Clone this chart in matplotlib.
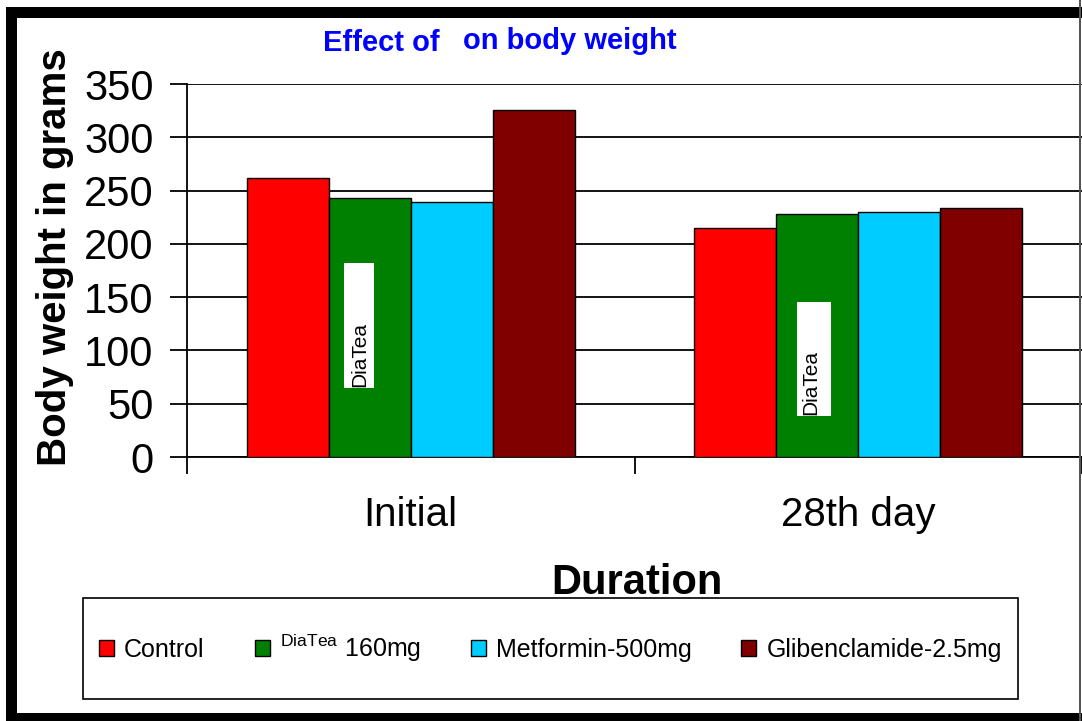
import matplotlib
matplotlib.use("Agg")
import numpy as np
from matplotlib import pyplot as plt
from matplotlib.patches import Rectangle

plt.rcParams['font.family'] = ['Liberation Sans', 'DejaVu Sans']
plt.rcParams['mathtext.fontset'] = 'custom'
plt.rcParams['mathtext.rm'] = 'Liberation Sans'

# data
durations = ['Initial', '28th day']
groups = ['Control', r'$^{\mathrm{DiaTea}}$ 160mg', 'Metformin-500mg', 'Glibenclamide-2.5mg']
control = [262, 215]
diatea = [243, 228]
metformin = [239, 230]
glib = [326, 234]
colors = ['#FF0000', '#008000', '#00CCFF', '#800000']

W, H = 1082, 721
fig = plt.figure(figsize=(W / 100, H / 100), dpi=100)
ax = fig.add_axes([187 / W, 1 - 457 / H, 895 / W, 373 / H])

series = [control, diatea, metformin, glib]
x = np.arange(len(durations)) + 0.5
bw = 0.183
for i, vals in enumerate(series):
    ax.bar(x + (i - 1.5) * bw, vals, bw, color=colors[i], edgecolor='black',
           linewidth=1.0, label=groups[i], zorder=3)

ax.set_xlim(0, 2)
ax.set_ylim(0, 350)
ax.set_yticks(np.arange(0, 351, 50))
ax.yaxis.grid(True, color='black', linewidth=1.3, zorder=0)
ax.set_xticks([0, 1, 2])
ax.set_xticklabels([])
ax.set_xticks(x, minor=True)
ax.set_xticklabels(durations, minor=True, fontsize=29)
ax.tick_params(axis='x', which='minor', length=0, pad=28)
ax.tick_params(axis='x', which='major', length=12, width=1.3, direction='out')
ax.tick_params(axis='y', length=12, width=1.3, direction='out', labelsize=30, pad=12)
for s in ['top', 'right']:
    ax.spines[s].set_visible(False)
ax.spines['left'].set_linewidth(1.3)
ax.spines['bottom'].set_linewidth(1.3)

ax.set_ylabel('Body weight in grams', fontsize=29, fontweight='bold', va='center', ha='center')
ax.yaxis.set_label_coords((55 - 187) / 895, (457 - 257) / 373)
ax.set_xlabel('Duration', fontsize=30, fontweight='bold', va='center', ha='center')
ax.xaxis.set_label_coords((637 - 187) / 895, (457 - 583) / 373)

# title (the drug name is missing in the original, leaving a gap)
fig.text(323 / W, 1 - 43 / H, 'Effect of', color='#0000FF',
         fontsize=21, fontweight='bold', ha='left', va='center')
fig.text(463 / W, 1 - 41 / H, 'on body weight', color='#0000FF',
         fontsize=21, fontweight='bold', ha='left', va='center')

# DiaTea stickers over the green bars
for (bx0, by0, bx1, by1), tx in [((344, 263, 374, 388), 360), ((797, 302, 831, 416), 811)]:
    fig.add_artist(Rectangle((bx0 / W, 1 - by1 / H), (bx1 - bx0) / W, (by1 - by0) / H,
                             transform=fig.transFigure, facecolor='white', edgecolor='none', zorder=4))
    fig.text(tx / W, 1 - (by1 - 1) / H, 'DiaTea', rotation=90, fontsize=15,
             ha='center', va='bottom', zorder=5)

# legend box
fig.add_artist(Rectangle((83 / W, 1 - 699 / H), (1018 - 83) / W, (699 - 598) / H,
                         transform=fig.transFigure, facecolor='white', edgecolor='black',
                         linewidth=1.2, zorder=4))
fig.legend(loc='center', bbox_to_anchor=((83 + 1018) / 2 / W, 1 - 648 / H), ncol=4,
           frameon=False, fontsize=18, handlelength=0.6, handleheight=0.6,
           handletextpad=0.4, columnspacing=2.0)

# outer frame
k = 'black'
fig.add_artist(Rectangle((6 / W, 1 - 721 / H), 11 / W, (721 - 7) / H, transform=fig.transFigure,
                         facecolor=k, edgecolor='none', zorder=6))
fig.add_artist(Rectangle((6 / W, 1 - 18 / H), (W - 6) / W, 11 / H, transform=fig.transFigure,
                         facecolor=k, edgecolor='none', zorder=6))
fig.add_artist(Rectangle((6 / W, 0), (W - 6) / W, 8 / H, transform=fig.transFigure,
                         facecolor=k, edgecolor='none', zorder=6))
fig.add_artist(Rectangle((1079 / W, 0), 2 / W, 1, transform=fig.transFigure,
                         facecolor='#555555', edgecolor='none', zorder=6))

fig.savefig('out.png', dpi=100)
